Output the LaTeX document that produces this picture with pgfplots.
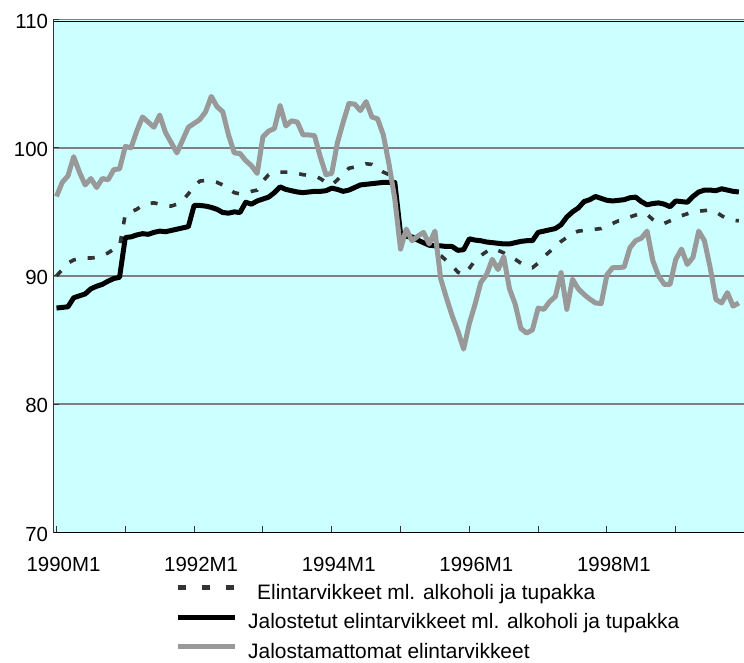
\documentclass[border=0pt]{standalone}
\usepackage{fontspec}
\setmainfont{Liberation Sans}
\usepackage{pgfplots}
\usepackage{pgfplotstable}
\pgfplotsset{compat=1.18}
\definecolor{bgcyan}{HTML}{CCFFFF}
\definecolor{gridgray}{HTML}{808080}
\definecolor{linegray}{HTML}{999999}
\definecolor{dashgray}{HTML}{333333}

\pgfplotstableread{
m D B G
0 90.0 87.5 96.2
1 90.5 87.55 97.3
2 91.0 87.6 97.8
3 91.25 88.3 99.3
4 91.35 88.45 98.1
5 91.4 88.6 97.1
6 91.4 89.0 97.6
7 91.45 89.2 96.9
8 91.6 89.35 97.6
9 91.8 89.6 97.5
10 92.1 89.8 98.3
11 92.3 89.9 98.35
12 94.8 93.0 100.1
13 95.0 93.05 100.0
14 95.2 93.2 101.3
15 95.5 93.3 102.4
16 95.65 93.25 102.0
17 95.7 93.4 101.6
18 95.6 93.5 102.55
19 95.5 93.45 101.2
20 95.45 93.55 100.4
21 95.6 93.65 99.6
22 95.9 93.75 100.6
23 96.4 93.85 101.6
24 97.0 95.5 101.9
25 97.4 95.5 102.2
26 97.45 95.45 102.8
27 97.4 95.35 104.0
28 97.3 95.2 103.2
29 97.1 94.95 102.8
30 96.8 94.9 101.0
31 96.5 95.0 99.6
32 96.4 94.95 99.55
33 96.5 95.75 99.0
34 96.6 95.6 98.6
35 96.7 95.85 98.0
36 97.4 96.0 100.85
37 97.9 96.15 101.3
38 98.05 96.5 101.5
39 98.1 96.95 103.3
40 98.1 96.75 101.7
41 98.1 96.65 102.1
42 98.0 96.55 102.0
43 97.9 96.5 101.0
44 97.85 96.55 101.0
45 97.8 96.6 100.95
46 97.6 96.6 99.3
47 97.3 96.65 97.9
48 97.1 96.85 98.0
49 97.5 96.75 100.4
50 98.0 96.6 102.0
51 98.4 96.7 103.45
52 98.5 96.9 103.4
53 98.6 97.1 102.9
54 98.75 97.15 103.6
55 98.7 97.2 102.4
56 98.4 97.25 102.25
57 98.1 97.3 101.0
58 97.9 97.3 98.7
59 96.5 97.3 96.0
60 93.5 93.3 92.1
61 93.3 93.1 93.66
62 93.1 93.0 92.75
63 93.0 92.8 93.1
64 92.9 92.6 93.4
65 92.6 92.4 92.5
66 92.2 92.35 93.5
67 91.6 92.35 89.8
68 91.2 92.3 88.3
69 90.8 92.3 86.9
70 90.3 92.0 85.7
71 90.1 92.05 84.3
72 90.6 92.9 86.3
73 91.2 92.8 87.8
74 91.6 92.75 89.5
75 91.9 92.65 90.1
76 92.15 92.6 91.3
77 92.0 92.55 90.5
78 91.8 92.5 91.5
79 91.5 92.5 89.0
80 91.3 92.6 87.8
81 91.0 92.7 85.9
82 90.75 92.75 85.55
83 90.65 92.75 85.8
84 91.0 93.4 87.5
85 91.5 93.5 87.4
86 91.9 93.6 88.0
87 92.3 93.7 88.4
88 92.7 94.0 90.26
89 93.0 94.6 87.4
90 93.3 95.0 89.74
91 93.5 95.3 89.0
92 93.55 95.8 88.56
93 93.6 95.95 88.2
94 93.65 96.2 87.9
95 93.7 96.05 87.85
96 93.9 95.9 90.1
97 94.1 95.85 90.65
98 94.3 95.9 90.65
99 94.4 95.95 90.7
100 94.6 96.1 92.2
101 94.75 96.15 92.75
102 94.9 95.8 92.95
103 94.8 95.55 93.5
104 94.4 95.65 91.2
105 94.1 95.7 90.0
106 94.1 95.6 89.35
107 94.3 95.4 89.35
108 94.5 95.85 91.3
109 94.7 95.8 92.1
110 94.85 95.75 90.9
111 95.0 96.2 91.45
112 95.05 96.55 93.5
113 95.1 96.7 92.75
114 95.15 96.7 90.65
115 95.0 96.65 88.17
116 94.7 96.8 87.9
117 94.45 96.7 88.7
118 94.35 96.6 87.65
119 94.3 96.55 87.9
}\data

\begin{document}
\begin{tikzpicture}
\useasboundingbox (0,0) rectangle (744bp,663bp);
\begin{axis}[
  at={(53.5bp,130.5bp)}, anchor=south west,
  scale only axis, width=690.5bp, height=513bp,
  xmin=-0.52, xmax=119.9, ymin=70, ymax=110,
  axis background/.style={fill=bgcyan},
  axis x line*=bottom, axis y line*=left,
  x axis line style={black, line width=1.2bp},
  y axis line style={black!80, line width=1.2bp},
  tick align=inside,
  major tick length=6bp,
  tick style={black!80, line width=1bp},
  xtick={0,12,...,108},
  xticklabels={1990M1,,1992M1,,1994M1,,1996M1,,1998M1,},
  ytick={70,80,90,100,110},
  ymajorgrids,
  grid style={gridgray, line width=1.6bp},
  /pgf/number format/assume math mode=true,
  ticklabel style={font=\fontsize{20.5}{24}\selectfont},
  xticklabel style={xshift=7bp, yshift=-21bp},
  yticklabel style={xshift=-2bp, yshift=-1.5bp},
  clip=true,
  legend style={at={(rel axis cs:0.176,-0.1004)}, anchor=north west,
    draw=none, fill=none, inner sep=0pt, row sep=12.5bp,
    font=\fontsize{21}{24}\selectfont,
    nodes={inner sep=0pt, text height=15bp, text depth=2bp},
    /tikz/every odd column/.append style={column sep=11bp}},
  legend cell align=left,
  legend image code/.code={\draw[#1] (0bp,5bp) -- (57bp,5bp);},
]
\addplot[dashgray, line width=3.6bp, dash pattern=on 7bp off 12bp,
  legend image post style={dash pattern=on 8.5bp off 15.5bp, line width=4.5bp}] table[x=m, y=D] {\data};
\addlegendentry{\hspace*{9bp}Elintarvikkeet ml. alkoholi ja tupakka}
\addplot[black, line width=5bp, line join=round] table[x=m, y=B] {\data};
\addlegendentry{Jalostetut elintarvikkeet ml. alkoholi ja tupakka}
\addplot[linegray, line width=5bp, line join=round] table[x=m, y=G] {\data};
\addlegendentry{Jalostamattomat elintarvikkeet}
\draw[black, line width=1.2bp] ([yshift=-2bp]rel axis cs:0,1) -- ([yshift=-2bp]rel axis cs:1,1);
\end{axis}
\end{tikzpicture}
\end{document}
